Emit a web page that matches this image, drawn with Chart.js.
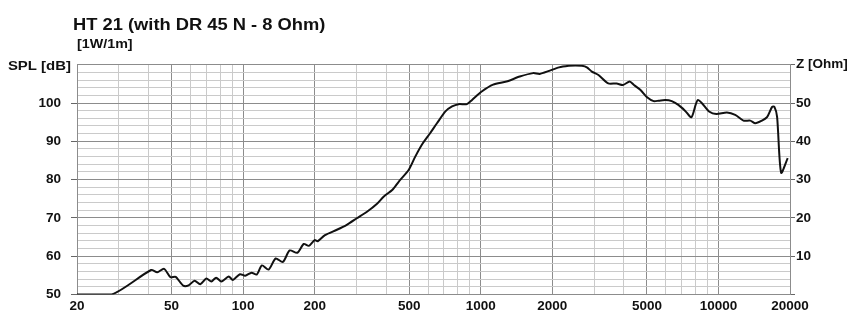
<!DOCTYPE html>
<html>
<head>
<meta charset="utf-8">
<script src="https://cdn.jsdelivr.net/npm/chart.js@4.4.0/dist/chart.umd.min.js"></script>
<style>
  html, body { margin: 0; padding: 0; background: #fff; }
  #wrap { width: 851px; height: 314px; position: relative; }
</style>
</head>
<body>
<div id="wrap"><canvas id="splChart" width="851" height="314"></canvas></div>
<script>
// frequency response (Hz / dB)
var freq = [20, 28, 41, 43.5, 46.5, 49.5, 52, 56, 59, 62.5, 66, 70, 73.5, 77, 81, 87, 90.5, 97, 102, 108.5,
  114, 120, 128, 137, 147, 157, 169, 180, 189, 200, 206, 221, 248, 273, 301, 332, 366, 391, 424, 452,
  497, 530, 565, 612, 654, 710, 757, 807, 874, 919, 1009, 1127, 1282, 1459, 1659, 1770, 1940, 2134, 2345, 2500,
  2665, 2795, 2933, 3127, 3440, 3728, 3964, 4230, 4410, 4700, 5008, 5338, 5600, 5970, 6360, 6780, 7230, 7700, 8200, 9170,
  9800, 10850, 11760, 12740, 13610, 14290, 15250, 16010, 16820, 17200, 17650, 18350, 19560];
var spl = [50, 50, 56.4, 55.8, 56.7, 54.5, 54.6, 52.3, 52.4, 53.6, 52.7, 54.2, 53.4, 54.4, 53.4, 54.7, 53.8, 55.3, 54.9, 55.7,
  55.2, 57.6, 56.5, 59.4, 58.5, 61.5, 60.9, 63.2, 62.7, 64.2, 63.9, 65.5, 66.9, 68.2, 69.9, 71.6, 73.7, 75.6, 77.3, 79.5,
  82.5, 86, 89.1, 92.1, 94.7, 97.8, 99.1, 99.7, 99.7, 100.8, 103, 104.8, 105.6, 106.9, 107.8, 107.6, 108.4, 109.3, 109.7, 109.8,
  109.7, 109.3, 108.2, 107.3, 105.1, 105.1, 104.7, 105.6, 104.7, 103.4, 101.5, 100.5, 100.6, 100.8, 100.5, 99.5, 98, 96.3, 100.8, 97.7,
  97.1, 97.5, 96.9, 95.4, 95.4, 94.7, 95.4, 96.3, 99, 99, 96.4, 81.8, 85.6];

var xGrid = [20, 30, 40, 50, 60, 70, 80, 90, 100, 200, 300, 400, 500, 600, 700, 800, 900,
  1000, 2000, 3000, 4000, 5000, 6000, 7000, 8000, 9000, 10000, 20000];
var xLabels = [20, 50, 100, 200, 500, 1000, 2000, 5000, 10000, 20000];
var splTicks = [50, 60, 70, 80, 90, 100];
var zTicks = [10, 20, 30, 40, 50];

var MAJOR = '#8c8c8c';
var MINOR = '#cacaca';
var FONT = { family: 'Liberation Sans, Arial, sans-serif', size: 13.5, weight: 'bold' };

var points = freq.map(function (f, i) { return { x: f, y: spl[i] }; });

// titles are slightly wider than the font in the source image, so stretch them a bit
var textPlugin = {
  id: 'texts',
  afterDraw: function (chart) {
    var c = chart.ctx;
    function put(txt, x, y, size, sx, align) {
      c.save();
      c.font = 'bold ' + size + 'px Liberation Sans, Arial, sans-serif';
      c.fillStyle = '#111';
      c.textBaseline = 'alphabetic';
      c.textAlign = align || 'left';
      c.translate(x, y);
      c.scale(sx, 1);
      c.fillText(txt, 0, 0);
      c.restore();
    }
    put('HT 21 (with DR 45 N - 8 Ohm)', 73, 30, 16.5, 1.11);
    put('[1W/1m]', 77, 48, 13, 1.1);
    put('SPL [dB]', 71, 69.5, 13, 1.15, 'right');
  }
};

new Chart(document.getElementById('splChart'), {
  type: 'line',
  data: {
    datasets: [{
      data: points,
      borderColor: '#111',
      borderWidth: 2,
      pointRadius: 0,
      tension: 0.25,
      fill: false
    }]
  },
  plugins: [textPlugin],
  options: {
    responsive: false,
    animation: false,
    layout: { autoPadding: false, padding: { top: 64.7, left: 0, right: 0, bottom: 0 } },
    plugins: { legend: { display: false }, tooltip: { enabled: false } },
    scales: {
      x: {
        type: 'logarithmic',
        min: 20,
        max: 20000,
        afterBuildTicks: function (scale) {
          scale.ticks = xGrid.map(function (v) { return { value: v }; });
        },
        afterFit: function (scale) { scale.height = 19.5; },
        grid: {
          color: function (ctx) { return ctx.tick && xLabels.indexOf(ctx.tick.value) >= 0 ? MAJOR : MINOR; },
          tickLength: 0
        },
        border: { color: MAJOR },
        ticks: {
          autoSkip: false,
          maxRotation: 0,
          padding: 4,
          color: '#111',
          font: FONT,
          callback: function (v) { return xLabels.indexOf(v) >= 0 ? String(v) : ''; }
        }
      },
      y: {
        position: 'left',
        min: 50,
        max: 110,
        afterBuildTicks: function (scale) {
          var t = [];
          for (var v = 50; v <= 110; v += 2) t.push({ value: v });
          scale.ticks = t;
        },
        afterFit: function (scale) { scale.width = 77; },
        grid: {
          color: function (ctx) { return ctx.tick && ctx.tick.value % 10 === 0 ? MAJOR : MINOR; },
          tickColor: function (ctx) { return ctx.tick && splTicks.indexOf(ctx.tick.value) >= 0 ? '#666' : 'rgba(0,0,0,0)'; },
          tickLength: 6
        },
        border: { color: MAJOR },
        ticks: {
          autoSkip: false,
          padding: 10,
          color: '#111',
          font: FONT,
          callback: function (v) { return splTicks.indexOf(v) >= 0 ? String(v) : ''; }
        }
      },
      z: {
        position: 'right',
        min: 0,
        max: 60,
        afterFit: function (scale) { scale.width = 61; },
        grid: { drawOnChartArea: false, tickLength: 5, tickColor: '#666' },
        border: { color: MAJOR },
        ticks: {
          stepSize: 10,
          padding: 1,
          color: '#111',
          font: FONT,
          callback: function (v) {
            if (v === 60) return 'Z [Ohm]';
            return zTicks.indexOf(v) >= 0 ? String(v) : '';
          }
        }
      }
    }
  }
});
</script>
</body>
</html>
